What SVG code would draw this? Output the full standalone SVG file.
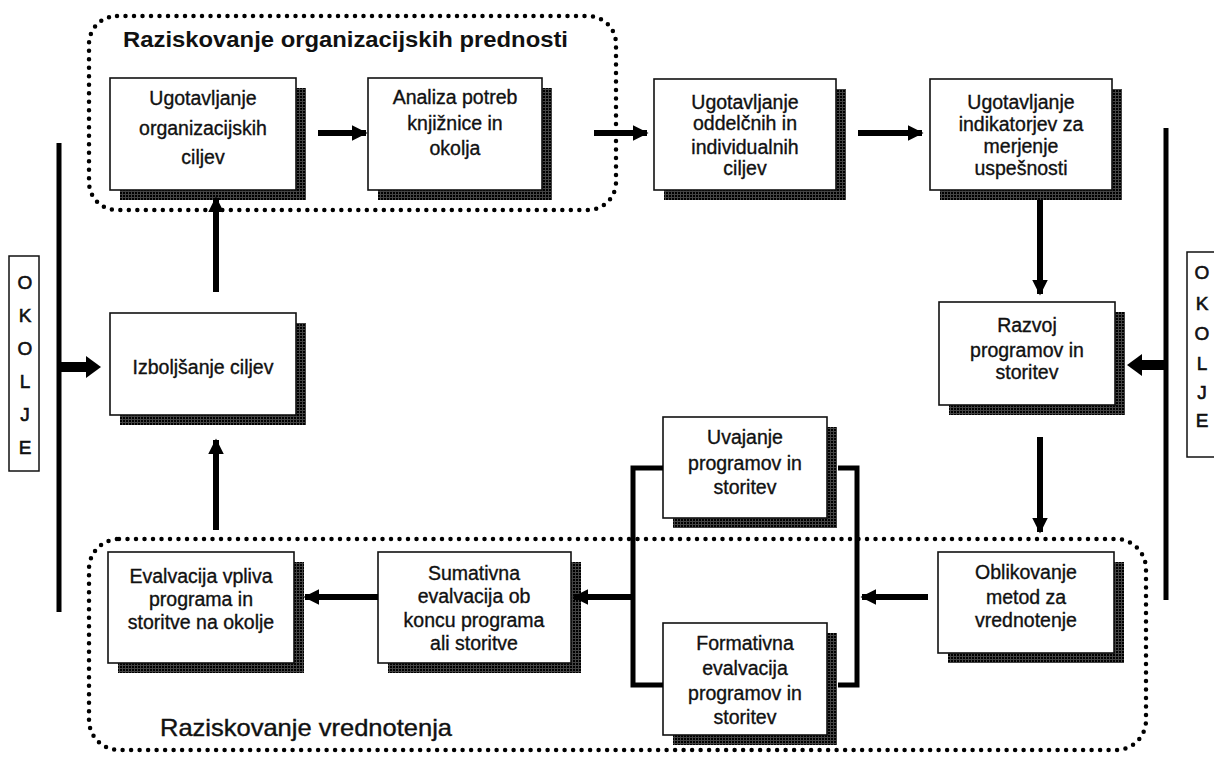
<svg xmlns="http://www.w3.org/2000/svg" width="1214" height="758" viewBox="0 0 1214 758">
<defs>
<pattern id="ht" width="3" height="3" patternUnits="userSpaceOnUse">
<rect width="3" height="3" fill="#444"/>
<rect width="2" height="2" fill="#000"/>
</pattern>
<marker id="ah" viewBox="0 0 10 10" refX="9" refY="5" markerWidth="2.6" markerHeight="2.6" orient="auto" markerUnits="strokeWidth">
<path d="M0,0 L10,5 L0,10 Z" fill="#000"/>
</marker>
</defs>
<style>
.box{fill:#fff;stroke:#111;stroke-width:1.6}
.sh{fill:url(#ht)}
.t{font-family:"Liberation Sans",Arial,sans-serif;font-size:19.5px;fill:#111;stroke:#111;stroke-width:0.35;text-anchor:middle}
.ttl{font-family:"Liberation Sans",Arial,sans-serif;fill:#111}
.dot{fill:none;stroke:#000;stroke-width:4.5;stroke-linecap:round;stroke-dasharray:0 8.5}
.ln{fill:none;stroke:#000;stroke-width:5}
.ar{fill:none;stroke:#000;stroke-width:6;marker-end:url(#ah)}
.hd{fill:#000}
.ok{font-family:"Liberation Sans",Arial,sans-serif;font-size:19px;fill:#111;stroke:#111;stroke-width:0.6;text-anchor:middle}
.okb{fill:#fff;stroke:#111;stroke-width:1.5}
</style>
<rect width="1214" height="758" fill="#fff"/>

<g id="region-top">
<rect class="dot" x="89" y="16" width="527" height="194" rx="28"/>
<text class="ttl" x="123" y="47" font-size="22" font-weight="bold" textLength="445" lengthAdjust="spacingAndGlyphs">Raziskovanje organizacijskih prednosti</text>
</g>
<g id="region-bottom">
<rect class="dot" x="89" y="539" width="1057" height="211" rx="30"/>
<text class="ttl" x="160" y="736" font-size="24" stroke="#111" stroke-width="0.4" textLength="292" lengthAdjust="spacingAndGlyphs">Raziskovanje vrednotenja</text>
</g>

<g id="okolje-left">
<rect class="okb" x="9" y="256" width="30" height="215"/>
<text class="ok" x="25" y="289">O</text>
<text class="ok" x="25" y="322">K</text>
<text class="ok" x="25" y="355">O</text>
<text class="ok" x="25" y="388">L</text>
<text class="ok" x="25" y="421">J</text>
<text class="ok" x="25" y="454">E</text>
</g>
<g id="okolje-right">
<rect class="okb" x="1187" y="252" width="40" height="205"/>
<text class="ok" x="1202" y="279">O</text>
<text class="ok" x="1202" y="310">K</text>
<text class="ok" x="1202" y="340">O</text>
<text class="ok" x="1202" y="370">L</text>
<text class="ok" x="1202" y="399">J</text>
<text class="ok" x="1202" y="427">E</text>
</g>

<g id="n1">
<rect class="sh" x="120" y="88" width="186" height="112"/>
<rect class="box" x="110" y="78" width="186" height="112"/>
<text class="t" x="203" y="105">Ugotavljanje</text>
<text class="t" x="203" y="135">organizacijskih</text>
<text class="t" x="203" y="164">ciljev</text>
</g>
<g id="n2">
<rect class="sh" x="378" y="88" width="174" height="112"/>
<rect class="box" x="368" y="78" width="174" height="112"/>
<text class="t" x="455" y="104">Analiza potreb</text>
<text class="t" x="455" y="130">knjižnice in</text>
<text class="t" x="455" y="155">okolja</text>
</g>
<g id="n3">
<rect class="sh" x="664" y="89" width="182" height="111"/>
<rect class="box" x="654" y="79" width="182" height="111"/>
<text class="t" x="745" y="109">Ugotavljanje</text>
<text class="t" x="745" y="130">oddelčnih in</text>
<text class="t" x="745" y="154">individualnih</text>
<text class="t" x="745" y="175">ciljev</text>
</g>
<g id="n4">
<rect class="sh" x="940" y="89" width="182" height="111"/>
<rect class="box" x="930" y="79" width="182" height="111"/>
<text class="t" x="1021" y="109">Ugotavljanje</text>
<text class="t" x="1021" y="131">indikatorjev za</text>
<text class="t" x="1021" y="153">merjenje</text>
<text class="t" x="1021" y="175">uspešnosti</text>
</g>
<g id="n5">
<rect class="sh" x="949" y="312" width="176" height="103"/>
<rect class="box" x="939" y="302" width="176" height="103"/>
<text class="t" x="1027" y="332">Razvoj</text>
<text class="t" x="1027" y="357">programov in</text>
<text class="t" x="1027" y="379">storitev</text>
</g>
<g id="n6">
<rect class="sh" x="948" y="562" width="176" height="101"/>
<rect class="box" x="938" y="552" width="176" height="101"/>
<text class="t" x="1026" y="579">Oblikovanje</text>
<text class="t" x="1026" y="604">metod za</text>
<text class="t" x="1026" y="627">vrednotenje</text>
</g>
<g id="n7">
<rect class="sh" x="673" y="427" width="164" height="101"/>
<rect class="box" x="663" y="417" width="164" height="101"/>
<text class="t" x="745" y="444">Uvajanje</text>
<text class="t" x="745" y="470">programov in</text>
<text class="t" x="745" y="494">storitev</text>
</g>
<g id="n8">
<rect class="sh" x="673" y="633" width="164" height="112"/>
<rect class="box" x="663" y="623" width="164" height="112"/>
<text class="t" x="745" y="650">Formativna</text>
<text class="t" x="745" y="675">evalvacija</text>
<text class="t" x="745" y="700">programov in</text>
<text class="t" x="745" y="724">storitev</text>
</g>
<g id="n9">
<rect class="sh" x="388" y="562" width="193" height="111"/>
<rect class="box" x="378" y="552" width="193" height="111"/>
<text class="t" x="474" y="580">Sumativna</text>
<text class="t" x="474" y="603">evalvacija ob</text>
<text class="t" x="474" y="627">koncu programa</text>
<text class="t" x="474" y="650">ali storitve</text>
</g>
<g id="n10">
<rect class="sh" x="118" y="562" width="186" height="111"/>
<rect class="box" x="108" y="552" width="186" height="111"/>
<text class="t" x="201" y="583">Evalvacija vpliva</text>
<text class="t" x="201" y="606">programa in</text>
<text class="t" x="201" y="629">storitve na okolje</text>
</g>
<g id="n11">
<rect class="sh" x="120" y="323" width="186" height="102"/>
<rect class="box" x="110" y="313" width="186" height="102"/>
<text class="t" x="203" y="374">Izboljšanje ciljev</text>
</g>

<g id="connectors">
<line class="ln" x1="59" y1="143" x2="59" y2="612"/>
<line class="ln" x1="1166" y1="128" x2="1166" y2="600"/>
<polyline class="ln" points="663,468 633,468 633,685 663,685"/>
<polyline class="ln" points="838,468 857,468 857,685 838,685"/>
<line class="ar" x1="318" y1="133" x2="366" y2="133"/>
<line class="ar" x1="594" y1="133" x2="647" y2="133"/>
<line class="ar" x1="858" y1="133" x2="922" y2="133"/>
<line class="ar" x1="1040" y1="200" x2="1040" y2="294"/>
<line class="ar" x1="1040" y1="437" x2="1040" y2="532"/>
<line class="ar" x1="928" y1="597" x2="862" y2="597"/>
<line class="ar" x1="633" y1="597" x2="574" y2="597"/>
<line class="ar" x1="378" y1="597" x2="305" y2="597"/>
<line class="ar" x1="216" y1="530" x2="216" y2="440"/>
<line class="ar" x1="216" y1="292" x2="216" y2="198"/>
<line stroke="#000" stroke-width="10" x1="60" y1="367" x2="88" y2="367"/>
<polygon class="hd" points="86,356 101,367 86,378"/>
<line stroke="#000" stroke-width="10" x1="1165" y1="365" x2="1140" y2="365"/>
<polygon class="hd" points="1142,354 1127,365 1142,376"/>
</g>
</svg>
